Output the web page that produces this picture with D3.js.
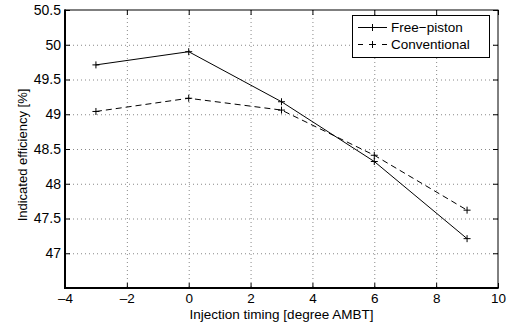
<!DOCTYPE html>
<html><head><meta charset="utf-8">
<script src="https://cdn.jsdelivr.net/npm/d3@7"></script>
<style>
body{margin:0;background:#fff;}
text{font-family:"Liberation Sans",Arial,sans-serif;fill:#000;}
</style></head><body>
<svg id="c" width="515" height="325"></svg>
<script>
const timing = [-3, 0, 3, 6, 9];
const freePiston = [49.71, 49.90, 49.18, 48.32, 47.21];
const conventional = [49.04, 49.23, 49.06, 48.41, 47.62];
const xTicks = [-4, -2, 0, 2, 4, 6, 8, 10];
const yTicks = [47, 47.5, 48, 48.5, 49, 49.5, 50, 50.5];
const seriesNames = ["Free\u2212piston", "Conventional"];

const L = 65, R = 498, T = 10, B = 288;
const svg = d3.select("#c");
const x = d3.scaleLinear().domain([-4, 10]).range([L, R]);
const y = d3.scaleLinear().domain([46.5, 50.5]).range([B, T]);

// grid
const g = svg.append("g");
g.selectAll(".vg").data(xTicks.filter(d => d > -4 && d < 10)).enter().append("line")
  .attr("x1", d => x(d) + 0.5).attr("x2", d => x(d) + 0.5).attr("y1", T).attr("y2", B)
  .attr("stroke", "#888").attr("stroke-width", 1).attr("stroke-dasharray", "1,3");
g.selectAll(".hg").data(yTicks.filter(d => d > 46.5 && d < 50.5)).enter().append("line")
  .attr("y1", d => y(d) + 0.5).attr("y2", d => y(d) + 0.5).attr("x1", L).attr("x2", R)
  .attr("stroke", "#888").attr("stroke-width", 1).attr("stroke-dasharray", "1,3");

// axes
const tl = 5;
const xb = svg.append("g").attr("transform", `translate(0,${B})`)
  .call(d3.axisBottom(x).tickValues(xTicks).tickSizeInner(-tl).tickSizeOuter(0).tickPadding(5)
    .tickFormat(d => d < 0 ? "\u2013" + Math.abs(d) : d));
const xt = svg.append("g").attr("transform", `translate(0,${T})`)
  .call(d3.axisTop(x).tickValues(xTicks).tickSizeInner(-tl).tickSizeOuter(0).tickFormat(""));
const yl = svg.append("g").attr("transform", `translate(${L},0)`)
  .call(d3.axisLeft(y).tickValues(yTicks).tickSizeInner(-tl).tickSizeOuter(0).tickPadding(4)
    .tickFormat(d => d));
const yr = svg.append("g").attr("transform", `translate(${R},0)`)
  .call(d3.axisRight(y).tickValues(yTicks).tickSizeInner(-tl).tickSizeOuter(0).tickFormat(""));
[xb, xt, yl, yr].forEach(a => {
  a.select(".domain").remove();
  a.selectAll(".tick line").attr("stroke", "#000").attr("stroke-width", 1);
  a.selectAll("text").style("font-size", "14px").style("font-family", "'Liberation Sans',Arial,sans-serif").attr("fill", "#000");
});
xb.selectAll("text").style("font-size", "13.5px");
// frame
svg.append("rect").attr("x", L).attr("y", T).attr("width", R - L).attr("height", B - T)
  .attr("fill", "none").attr("stroke", "#000").attr("stroke-width", 1);
svg.append("line").attr("x1", L).attr("x2", L).attr("y1", T - 0.5).attr("y2", B + 1).attr("stroke", "#000").attr("stroke-width", 2);
svg.append("line").attr("x1", L - 1).attr("x2", R + 0.5).attr("y1", B).attr("y2", B).attr("stroke", "#000").attr("stroke-width", 2);

// labels
svg.append("text").attr("x", (L + R) / 2).attr("y", 319).attr("text-anchor", "middle")
  .style("font-size", "13.5px").text("Injection timing [degree AMBT]");
svg.append("text").attr("transform", `translate(27,155) rotate(-90)`).attr("text-anchor", "middle")
  .style("font-size", "13px").text("Indicated efficiency [%]");

// series
const line = d3.line().x(d => x(d[0])).y(d => y(d[1]));
const series = [
  {vals: freePiston, dash: null, legDash: null},
  {vals: conventional, dash: "6,4", legDash: "5,19"}
];
function plus(sel, px, py) {
  sel.append("line").attr("x1", px - 3.5).attr("x2", px + 3.5).attr("y1", py).attr("y2", py).attr("stroke", "#000");
  sel.append("line").attr("x1", px).attr("x2", px).attr("y1", py - 3.5).attr("y2", py + 3.5).attr("stroke", "#000");
}
series.forEach(s => {
  const pts = timing.map((t, i) => [t, s.vals[i]]);
  svg.append("path").attr("d", line(pts)).attr("fill", "none").attr("stroke", "#000")
    .attr("stroke-width", 1).attr("stroke-dasharray", s.dash);
  const mg = svg.append("g");
  pts.forEach(p => plus(mg, x(p[0]), y(p[1])));
});

// legend
const lg = svg.append("g");
lg.append("rect").attr("x", 352.5).attr("y", 15.5).attr("width", 137).attr("height", 42)
  .attr("fill", "#fff").attr("stroke", "#000").attr("stroke-width", 1);
series.forEach((s, i) => {
  const ly = 27.5 + i * 17;
  lg.append("line").attr("x1", 358).attr("x2", 387).attr("y1", ly).attr("y2", ly)
    .attr("stroke", "#000").attr("stroke-dasharray", s.legDash);
  plus(lg, 372.5, ly);
  lg.append("text").attr("x", 391).attr("y", ly + 4.5).style("font-size", "13.5px").text(seriesNames[i]);
});
</script></body></html>
